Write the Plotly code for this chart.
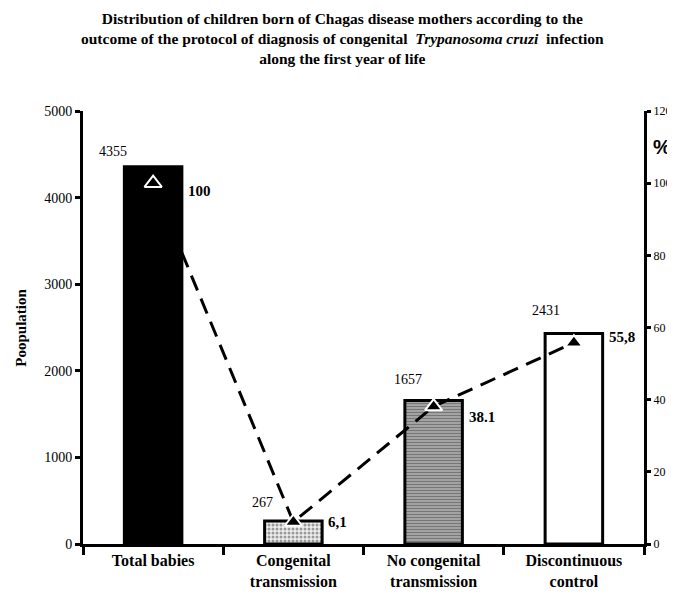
import plotly.graph_objects as go

categories = ["Total babies", "Congenital<br>transmission", "No congenital<br>transmission", "Discontinuous<br>control"]
population = [4355, 267, 1657, 2431]
percent = [100, 6.1, 38.1, 55.8]
percent_labels = ["100", "6,1", "38.1", "55,8"]
pop_ticks = [0, 1000, 2000, 3000, 4000, 5000]
pct_ticks = [0, 20, 40, 60, 80, 100, 120]

SERIF = "Liberation Serif"

# label placement (styling only)
pop_xshift = [-40, -31, -26, -28]
pop_yshift = [15, 18, 21, 23]
pct_yshift = [-8, 0, -10, 6]

fig = go.Figure()

bar_fill = ["black", "#eeeeee", "#a8a8a8", "white"]
pattern_shapes = ["", ".", "-", ""]
pattern_fg = ["black", "#666666", "#555555", "white"]

fig.add_trace(go.Bar(
    x=categories, y=population, width=0.41,
    marker=dict(
        color=bar_fill,
        line=dict(color="black", width=3),
        pattern=dict(shape=pattern_shapes, fgcolor=pattern_fg,
                     size=[6, 4, 3, 6], solidity=[0.3, 0.45, 0.4, 0.3], fillmode="overlay"),
    ),
    yaxis="y", showlegend=False, hoverinfo="skip",
))

fig.add_trace(go.Scatter(
    x=categories, y=percent, yaxis="y2", mode="lines+markers",
    line=dict(color="black", width=3, dash="16px,9px"),
    marker=dict(symbol="triangle-up", size=15, color="black", line=dict(color="white", width=2)),
    showlegend=False, hoverinfo="skip",
))

annotations = []
for c, v, xs, ys in zip(categories, population, pop_xshift, pop_yshift):
    annotations.append(dict(x=c, y=v, xref="x", yref="y", text=str(v), showarrow=False,
                            xanchor="center", yanchor="middle",
                            xshift=xs, yshift=ys, font=dict(family=SERIF, size=14, color="black")))
for c, p, lab, ys in zip(categories, percent, percent_labels, pct_yshift):
    annotations.append(dict(x=c, y=p, xref="x", yref="y2", text="<b>%s</b>" % lab, showarrow=False,
                            xanchor="left", yanchor="middle", xshift=33, yshift=ys,
                            font=dict(family=SERIF, size=15, color="black")))
annotations.append(dict(x=-0.112, y=0.5, xref="paper", yref="paper", text="<b>Poopulation</b>",
                        xanchor="center", yanchor="middle",
                        textangle=-90, showarrow=False, font=dict(family=SERIF, size=15, color="black")))
annotations.append(dict(x=1.012, y=0.948, xref="paper", yref="paper", text="<b>%</b>", showarrow=False,
                        xanchor="left", font=dict(family="Liberation Sans", size=20, color="black")))
annotations.append(dict(
    x=0.4625, y=1.238, xref="paper", yref="paper", xanchor="center", yanchor="top", showarrow=False,
    text="<b>Distribution of children born of Chagas disease mothers according to the<br>"
         "outcome of the protocol of diagnosis of congenital  <i>Trypanosoma cruzi</i>  infection<br>"
         "along the first year of life</b>",
    font=dict(family=SERIF, size=15.5, color="black"),
))

fig.update_layout(
    width=675, height=594,
    margin=dict(l=75, r=31, t=103, b=49),
    paper_bgcolor="white", plot_bgcolor="white",
    font=dict(family=SERIF, color="black"),
    xaxis=dict(
        type="category", range=[-0.5, 3.5], showline=True, linecolor="black", linewidth=3,
        ticks="outside", ticklen=8, tickwidth=3, tickcolor="black", tickson="boundaries",
        tickfont=dict(family=SERIF, size=16, color="black"), showgrid=False, zeroline=False,
        tickprefix="<b>", ticksuffix="</b>",
    ),
    yaxis=dict(
        range=[0, 5000], tickvals=pop_ticks, showline=True, linecolor="black", linewidth=3,
        ticks="outside", ticklen=5, tickwidth=3, tickcolor="black", showgrid=False, zeroline=False,
        tickfont=dict(family=SERIF, size=14, color="black"),
    ),
    yaxis2=dict(
        range=[0, 120], tickvals=pct_ticks, overlaying="y", side="right", showline=True,
        linecolor="black", linewidth=3, ticks="outside", ticklen=4, tickwidth=3, tickcolor="black",
        showgrid=False, zeroline=False, tickfont=dict(family=SERIF, size=12, color="black"),
    ),
    annotations=annotations,
    bargap=0.59,
)

fig.write_html("out.html")
